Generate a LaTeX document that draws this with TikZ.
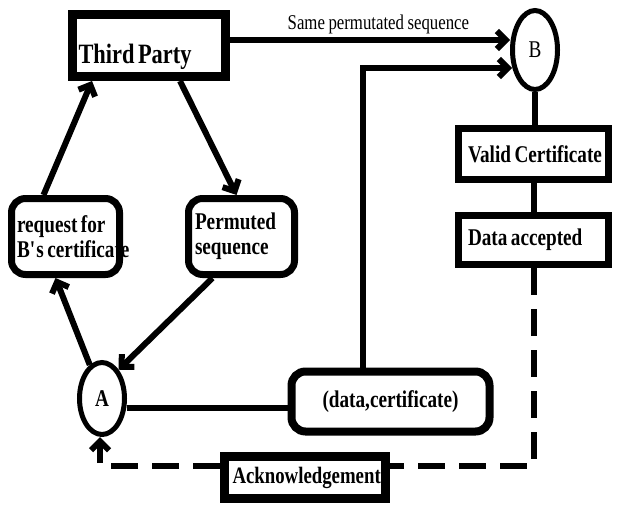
\documentclass[tikz,border=0pt]{standalone}
\usepackage{fontspec}
\setmainfont{Liberation Serif}[FakeStretch=0.8]
\usetikzlibrary{arrows.meta,shapes.geometric,calc}
\newcommand\wsp{\hspace{3.5pt}}
\tikzset{
  box/.style={draw,line width=7pt,font=\fontsize{24}{25}\selectfont\bfseries,%
    align=left,inner ysep=0pt},
  roundbox/.style={box,rounded corners=14pt},
  party/.style={draw,ellipse,line width=5pt,inner sep=0pt,%
    minimum width=45pt,font=\fontsize{24}{25}\selectfont},
  flow/.style={-{Straight Barb[length=9pt,width=18pt]},line width=6pt},
  link/.style={line width=6pt},
  ackline/.style={line width=6pt,dash pattern=on 27pt off 14pt},
}

\begin{document}
\begin{tikzpicture}[x=1pt,y=-1pt]
\useasboundingbox (0,0) rectangle (626,506);
\node[box,line width=9pt,anchor=north west,text width=141pt,inner xsep=6pt,%
  text height=49pt,text depth=13pt,font=\fontsize{28}{30}\selectfont\bfseries] (tp) at (68,10) {\mbox{Third\wsp Party}};
\node[party,minimum height=79pt] (B) at (535,50) {B};
\node[party,minimum height=72pt,font=\fontsize{24}{25}\selectfont\bfseries] (A) at (102,398.5) {A};
\node[roundbox,text width=97pt,inner xsep=5.5pt,minimum height=76pt] (rq) at (65.5,236.5) {\mbox{request\wsp for}\\\mbox{B\textquotesingle s\wsp certificate}};
\node[roundbox,text width=93pt,inner xsep=6.5pt,minimum height=76pt] (pm) at (241.5,236.5) {\mbox{Permuted}\\\mbox{sequence}};
\node[box,text width=131pt,inner xsep=9.5pt,minimum height=51pt] (vc) at (533.5,154) {\mbox{Valid\wsp Certificate}};
\node[box,text width=131pt,inner xsep=9.5pt,minimum height=49pt] (da) at (533.5,240) {\mbox{Data\wsp accepted}};
\node[roundbox,line width=8pt,align=center,minimum width=198pt,minimum height=60pt] (dc) at (390.5,401.5) {(data,certificate)};
\node[box,line width=9pt,text width=145pt,inner xsep=8pt,minimum height=42pt,%
  font=\fontsize{23.5}{25}\selectfont\bfseries] (ack) at (305,477.5) {\mbox{Acknowledgement}};
\coordinate (bend) at (363,68);
\coordinate (dashR) at (533.5,466);
\coordinate (dashL) at (100,466);
% protocol flow
\draw[flow] ([yshift=5.5pt]tp.east) --node[above,pos=0.53,inner sep=3pt,font=\fontsize{21}{22}\selectfont]{Same\wsp permutated\wsp sequence}([yshift=5.5pt]tp.east -| B.west);
\draw[flow] (dc.north -| bend) -- (bend) -- ([xshift=2pt]bend -| B.west);
\draw[flow] (A.110) -- ([xshift=-10pt]rq.south);
\draw[flow] ([xshift=-22pt]rq.north) -- ([xshift=-57pt]tp.south);
\draw[flow] ([xshift=31pt]tp.south) -- ([xshift=-5pt]pm.north);
\draw[flow] ([xshift=-29pt]pm.south) -- (A.60);
\draw[link] ([yshift=-9.5pt]A.east) -- ([yshift=-9.5pt]A.east -| dc.west);
\draw[link] (B.south) -- (B.south |- vc.north);
\draw[link] (vc) -- (da);
% acknowledgement back to A
\draw[ackline] (da.south) -- (dashR) -- (dashR -| ack.east);
\draw[ackline,-{Straight Barb[length=9pt,width=18pt]}] (dashR -| ack.west) -- (dashL) -- (dashL |- A.south);
\end{tikzpicture}
\end{document}
